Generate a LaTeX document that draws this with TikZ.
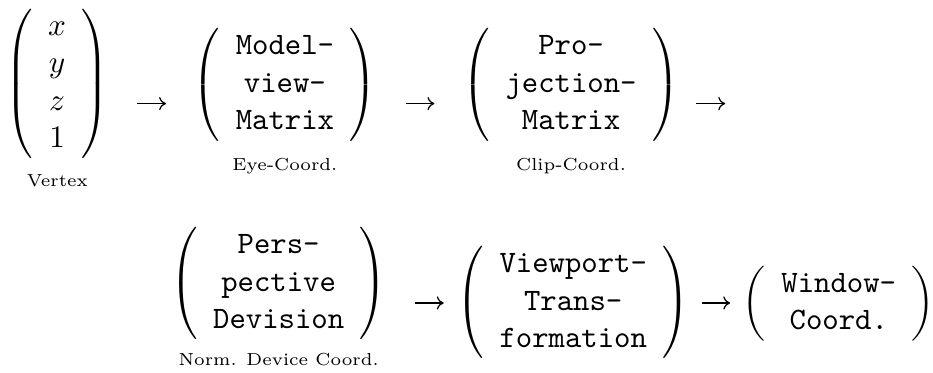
\documentclass[tikz,border=0pt]{standalone}
\usetikzlibrary{arrows.meta}
\newcommand{\stagelabel}[1]{\scalebox{0.93}{\fontsize{6}{7}\selectfont #1}}
\tikzset{
  mat/.style={inner sep=0pt, outer sep=0pt},
  lbl/.style={inner sep=0pt, anchor=base},
  arr/.style={line width=0.4pt, -{To[length=2.2pt,width=4.2pt]}}
}
\begin{document}
\begin{tikzpicture}[x=1pt,y=1pt]
\useasboundingbox (0,0) rectangle (299,-119.5);

% first row: vertex, modelview, projection
\node[mat] (v)  at (18.3,-26.9) {$\left(\begin{array}{c} x\\ y\\ z\\ 1\end{array}\right)$};
\node[mat] (mv) at (91.3,-27.2) {$\left(\begin{array}{c}\texttt{Model-}\\ \texttt{view-}\\ \texttt{Matrix}\end{array}\right)$};
\node[mat] (pj) at (183.0,-27.2) {$\left(\begin{array}{c}\texttt{Pro-}\\ \texttt{jection-}\\ \texttt{Matrix}\end{array}\right)$};

\node[lbl] (lv)  at (18.4,-59.9) {\stagelabel{Vertex}};
\node[lbl] (lmv) at (91.3,-54.5) {\stagelabel{Eye-Coord.}};
\node[lbl] (lpj) at (183.0,-54.5) {\stagelabel{Clip-Coord.}};

% second row: perspective division, viewport, window
\node[mat] (pd) at (89.3,-90.9) {$\left(\begin{array}{c}\texttt{Pers-}\\ \texttt{pective}\\ \texttt{Devision}\end{array}\right)$};
\node[mat] (vp) at (183.7,-97.0) {$\left(\begin{array}{c}\texttt{Viewport-}\\ \texttt{Trans-}\\ \texttt{formation}\end{array}\right)$};
\node[mat] (w)  at (268.8,-97.3) {$\left(\begin{array}{c}\texttt{Window-}\\ \texttt{Coord.}\end{array}\right)$};

\node[lbl] (lpd) at (89.3,-117.0) {\stagelabel{Norm. Device Coord.}};

% arrow end points between the stages
\coordinate (a1s) at (44.0,-33.2);  \coordinate (a1e) at (53.2,-33.2);
\coordinate (a2s) at (130.0,-33.2); \coordinate (a2e) at (139.2,-33.2);
\coordinate (a3s) at (223.2,-33.2); \coordinate (a3e) at (232.4,-33.2);
\coordinate (a4s) at (133.0,-97.1); \coordinate (a4e) at (142.2,-97.1);
\coordinate (a5s) at (225.0,-97.1); \coordinate (a5e) at (234.0,-97.1);

\draw[arr] (a1s) -- (a1e);
\draw[arr] (a2s) -- (a2e);
\draw[arr] (a3s) -- (a3e);
\draw[arr] (a4s) -- (a4e);
\draw[arr] (a5s) -- (a5e);
\end{tikzpicture}
\end{document}
